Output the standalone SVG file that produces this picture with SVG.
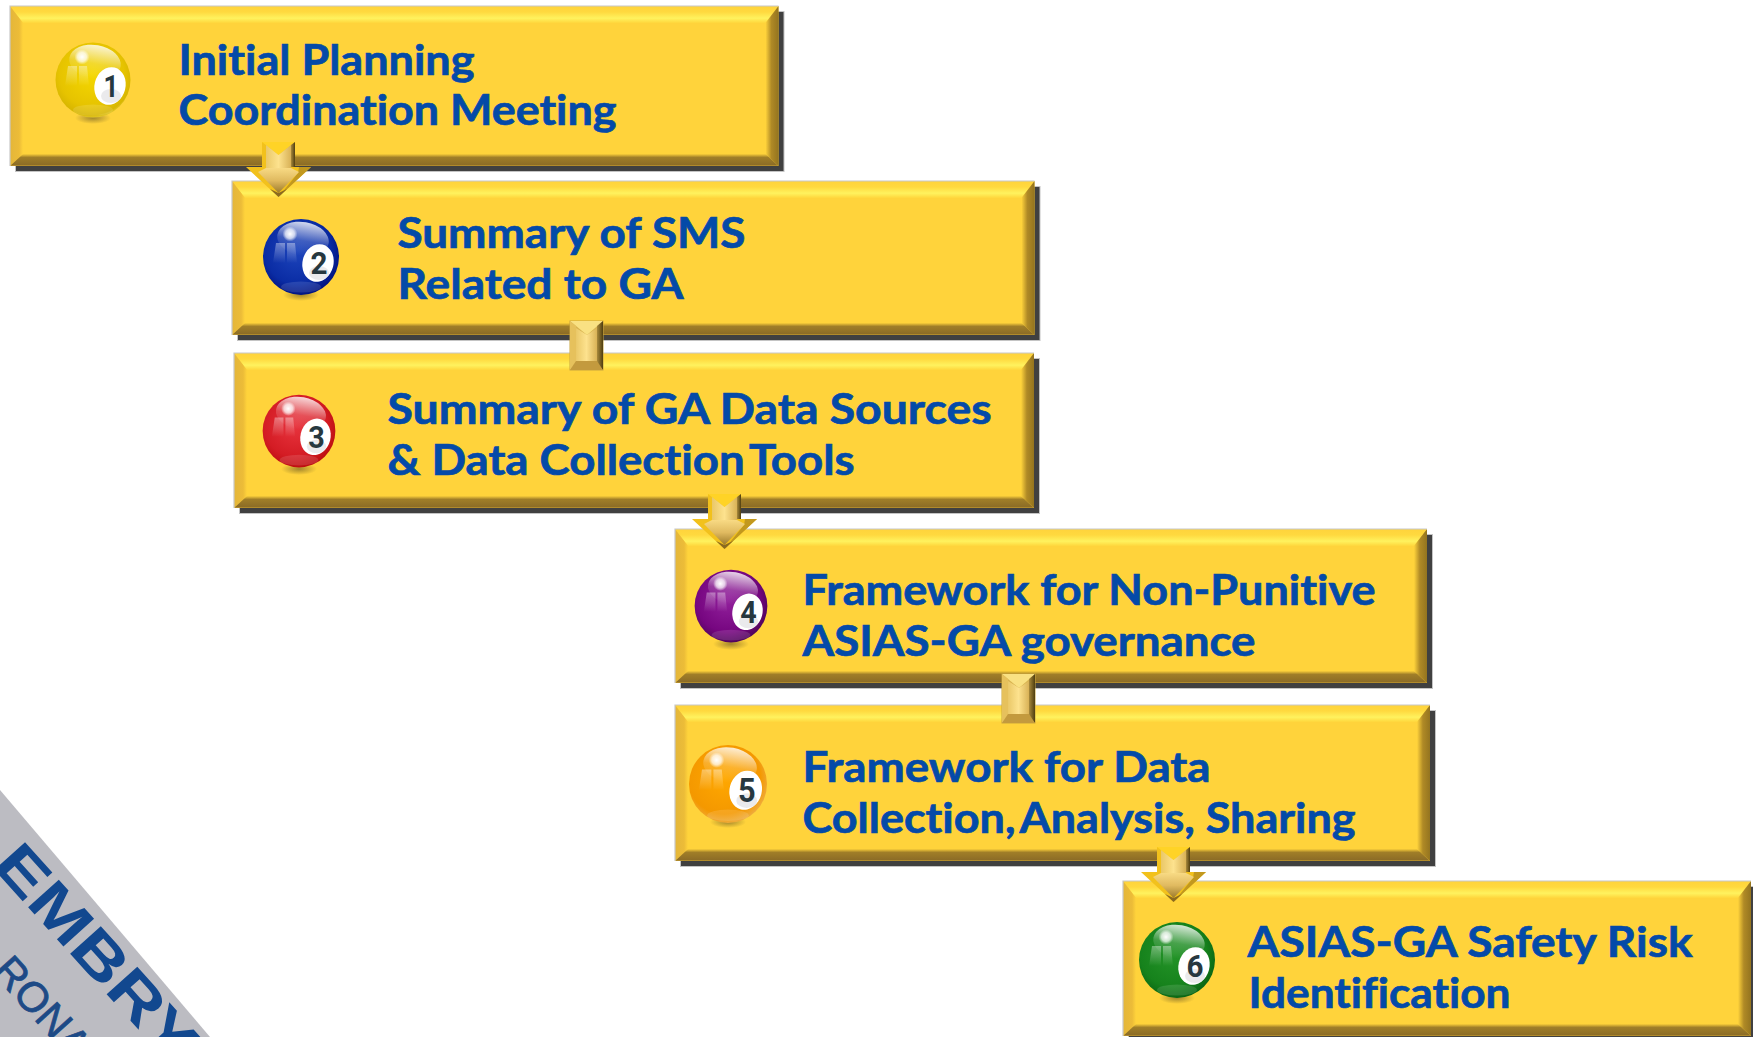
<svg xmlns="http://www.w3.org/2000/svg" width="1753" height="1037" viewBox="0 0 1753 1037">
<style>
.shadow{fill:#404040;stroke:#c4c4c4;stroke-width:1}
.face{fill:#ffd33b}
.top{fill:url(#gTop)}
.left{fill:url(#gLeft)}
.right{fill:url(#gRight)}
.bottom{fill:url(#gBottom)}
.edge{fill:none;stroke:#c8c8c8;stroke-width:1.2}
.label{font-family:"Lato","Open Sans","Liberation Sans",sans-serif;font-weight:700;font-size:42px;fill:#044aa8;stroke:#044aa8;stroke-width:.7;font-variant-ligatures:none}
.num{font-family:"Roboto","Liberation Sans",sans-serif;font-weight:700;font-size:32px;fill:#27383f;text-anchor:middle}
.logo1{font-family:"Liberation Sans",Arial,sans-serif;font-weight:700;font-size:60px;fill:#12488f}
.logo2{font-family:"Liberation Sans",Arial,sans-serif;font-size:42px;fill:#1d4a86;stroke:#1d4a86;stroke-width:.8}
</style>
<defs>
<linearGradient id="gTop" x1="0" y1="0" x2="0" y2="1"><stop offset="0" stop-color="#ffd33b"/><stop offset=".35" stop-color="#ffd93f"/><stop offset=".72" stop-color="#fff25e"/><stop offset="1" stop-color="#ffd63c"/></linearGradient>
<linearGradient id="gLeft" x1="0" y1="0" x2="1" y2="0"><stop offset="0" stop-color="#e4b63a"/><stop offset=".7" stop-color="#ecbc38"/><stop offset="1" stop-color="#ffd33b"/></linearGradient>
<linearGradient id="gRight" x1="0" y1="0" x2="1" y2="0"><stop offset="0" stop-color="#ffd33b"/><stop offset=".45" stop-color="#b08a26"/><stop offset="1" stop-color="#94741f"/></linearGradient>
<linearGradient id="gBottom" x1="0" y1="0" x2="0" y2="1"><stop offset="0" stop-color="#fbcf3a"/><stop offset=".28" stop-color="#a07e28"/><stop offset=".92" stop-color="#8c6c26"/><stop offset="1" stop-color="#d8ab30"/></linearGradient>
<linearGradient id="aFace" x1="0" y1="0" x2="1" y2="0"><stop offset="0" stop-color="#eac868"/><stop offset=".5" stop-color="#fde28e"/><stop offset="1" stop-color="#d9b257"/></linearGradient>
<linearGradient id="aTip" x1="0" y1="0" x2="0" y2="1"><stop offset="0" stop-color="#f8da84"/><stop offset=".5" stop-color="#e0ba60"/><stop offset="1" stop-color="#9c7a2a"/></linearGradient>
<linearGradient id="aRight" x1="0" y1="0" x2="1" y2="0"><stop offset="0" stop-color="#a98a3c"/><stop offset="1" stop-color="#4f3e10"/></linearGradient>
<radialGradient id="bY" cx=".48" cy=".42" r=".62"><stop offset="0" stop-color="#f5d800"/><stop offset=".7" stop-color="#e6c300"/><stop offset=".88" stop-color="#d8b600"/><stop offset="1" stop-color="#ecd85a"/></radialGradient>
<radialGradient id="bB" cx=".45" cy=".42" r=".62"><stop offset="0" stop-color="#1d45bc"/><stop offset=".7" stop-color="#0a2ca4"/><stop offset="1" stop-color="#000e78"/></radialGradient>
<radialGradient id="bR" cx=".45" cy=".42" r=".62"><stop offset="0" stop-color="#e8343e"/><stop offset=".7" stop-color="#d41c24"/><stop offset="1" stop-color="#b80c0c"/></radialGradient>
<radialGradient id="bP" cx=".45" cy=".42" r=".62"><stop offset="0" stop-color="#92209c"/><stop offset=".7" stop-color="#760680"/><stop offset="1" stop-color="#480454"/></radialGradient>
<radialGradient id="bO" cx=".45" cy=".42" r=".62"><stop offset="0" stop-color="#ffa800"/><stop offset=".75" stop-color="#f49800"/><stop offset="1" stop-color="#eeb04a"/></radialGradient>
<radialGradient id="bG" cx=".45" cy=".42" r=".62"><stop offset="0" stop-color="#249428"/><stop offset=".7" stop-color="#16821c"/><stop offset="1" stop-color="#086012"/></radialGradient>
<linearGradient id="gloss" x1="0" y1="0" x2="0" y2="1"><stop offset="0" stop-color="#fff" stop-opacity=".82"/><stop offset=".55" stop-color="#fff" stop-opacity=".18"/><stop offset="1" stop-color="#fff" stop-opacity="0"/></linearGradient>
<radialGradient id="spot"><stop offset="0" stop-color="#fff" stop-opacity="1"/><stop offset=".6" stop-color="#fff" stop-opacity=".7"/><stop offset="1" stop-color="#fff" stop-opacity="0"/></radialGradient>
<radialGradient id="shade"><stop offset="0" stop-color="#5a4a20" stop-opacity=".55"/><stop offset="1" stop-color="#5a4a20" stop-opacity="0"/></radialGradient>
<linearGradient id="win" x1="0" y1="0" x2="0" y2="1"><stop offset="0" stop-color="#fff" stop-opacity=".38"/><stop offset="1" stop-color="#fff" stop-opacity="0"/></linearGradient>
<g id="gl">
<ellipse cx="2" cy="-18" rx="26" ry="17" fill="url(#gloss)" transform="rotate(10 2 -18)"/>
<circle cx="-11" cy="-23" r="7.5" fill="url(#spot)"/>
<path d="M-25-14h9v20h-12zM-14-14h8l2 20h-10z" fill="url(#win)"/>
<ellipse cx="0" cy="30" rx="20" ry="5.5" fill="#fff" opacity=".12"/>
<ellipse cx="17" cy="6" rx="15.5" ry="19" fill="#fff" transform="rotate(14 17 6)"/>
<ellipse cx="18" cy="16" rx="10" ry="7" fill="#dcdce0" opacity=".6"/>
</g>
<ellipse id="sh" cx="0" cy="38" rx="18" ry="6" fill="url(#shade)"/>
<g id="arrow">
<polygon points="16,0 49,0 49,25 65,25 32.5,55 0,25 16,25" fill="#f2c11c"/>
<polygon points="16,0 49,0 32.5,13" fill="#ffd326"/>
<polygon points="49,0 45,3 45,25 49,25" fill="url(#aRight)"/>
<polygon points="20,3 32.5,13 45,3 45,27 20,27" fill="url(#aFace)"/>
<polygon points="32.5,55 65,25 53,25 52,31" fill="#c2981e"/>
<polygon points="20,26 45,26 53,30 32.5,51 12,30" fill="url(#aTip)"/>
<polygon points="32.5,55 24,47 32.5,51 41,47" fill="#8a6a20"/>
</g>
<g id="block">
<rect x="0" y="0" width="33" height="49" fill="#d9b451" stroke="#c9a63f" stroke-width="1"/>
<polygon points="0,0 33,0 17,14" fill="#f9e183"/>
<polygon points="0,0 6,5 6,43 0,49" fill="#e6c15c"/>
<polygon points="33,0 27,5 27,43 33,49" fill="url(#aRight)"/>
<polygon points="6,7 17,14 27,7 27,42 6,42" fill="url(#aFace)"/>
<polygon points="0,49 33,49 27,40 6,40" fill="#c39a3e"/>
</g>
</defs>
<rect width="1753" height="1037" fill="#fff"/>
<g id="logo">
<polygon points="0,790 210,1037 0,1037" fill="#bcbcc2"/>
<text class="logo1" x="-9" y="866" textLength="345" lengthAdjust="spacingAndGlyphs" transform="rotate(48 -9 866)">EMBRY-R</text>
<text class="logo2" x="-9" y="972" transform="rotate(48 -9 972)">RONAU</text>
</g>
<g id="node1">
<rect class="shadow" x="15.5" y="11.5" width="768.5" height="160"/>
<rect class="face" x="10" y="6" width="768.5" height="160"/>
<polygon class="top" points="10,6 778.5,6 765.5,23 23,23"/>
<polygon class="left" points="10,6 23,23 23,154 10,166"/>
<polygon class="right" points="778.5,6 765.5,23 765.5,154 778.5,166"/>
<polygon class="bottom" points="10,166 23,154 765.5,154 778.5,166"/>
<path class="edge" d="M10,166V6H778.5"/>
<use href="#sh" x="93" y="80"/>
<g transform="translate(93 80)"><circle r="37.5" fill="url(#bY)"/><use href="#gl"/><text class="num" x="18" y="17" textLength="15" lengthAdjust="spacingAndGlyphs">1</text></g>
<text class="label" x="178.500" y="74.500" textLength="296" lengthAdjust="spacingAndGlyphs">Initial Planning</text>
<text class="label" x="178.500" y="124.500" textLength="438" lengthAdjust="spacingAndGlyphs">Coordination Meeting</text>
</g>
<g id="node2">
<rect class="shadow" x="237.5" y="186.5" width="802.5" height="154"/>
<rect class="face" x="232" y="181" width="802.5" height="154"/>
<polygon class="top" points="232,181 1034.5,181 1021.5,198 245,198"/>
<polygon class="left" points="232,181 245,198 245,323 232,335"/>
<polygon class="right" points="1034.5,181 1021.5,198 1021.5,323 1034.5,335"/>
<polygon class="bottom" points="232,335 245,323 1021.5,323 1034.5,335"/>
<path class="edge" d="M232,335V181H1034.5"/>
<use href="#sh" x="301" y="257"/>
<g transform="translate(301 257)"><circle r="38" fill="url(#bB)"/><use href="#gl"/><text class="num" x="18" y="17" textLength="17" lengthAdjust="spacingAndGlyphs">2</text></g>
<text class="label" x="397.500" y="247.500" textLength="348" lengthAdjust="spacingAndGlyphs">Summary of SMS</text>
<text class="label" x="397.500" y="298.500" textLength="286" lengthAdjust="spacingAndGlyphs">Related to GA</text>
</g>
<g id="node3">
<rect class="shadow" x="239.5" y="358.5" width="800" height="155"/>
<rect class="face" x="234" y="353" width="800" height="155"/>
<polygon class="top" points="234,353 1034,353 1021,370 247,370"/>
<polygon class="left" points="234,353 247,370 247,496 234,508"/>
<polygon class="right" points="1034,353 1021,370 1021,496 1034,508"/>
<polygon class="bottom" points="234,508 247,496 1021,496 1034,508"/>
<path class="edge" d="M234,508V353H1034"/>
<use href="#sh" x="299" y="431"/>
<g transform="translate(299 431) scale(.97)"><circle r="37.5" fill="url(#bR)"/><use href="#gl"/><text class="num" x="18" y="17" textLength="17" lengthAdjust="spacingAndGlyphs">3</text></g>
<text class="label" x="387.500" y="423.500" textLength="604" lengthAdjust="spacingAndGlyphs">Summary of GA Data Sources</text>
<text class="label" x="387.500" y="474.500" textLength="467" lengthAdjust="spacingAndGlyphs">&amp; Data Collection <tspan dx="-5">Tools</tspan></text>
</g>
<g id="node4">
<rect class="shadow" x="680.5" y="534.5" width="752" height="154"/>
<rect class="face" x="675" y="529" width="752" height="154"/>
<polygon class="top" points="675,529 1427,529 1414,546 688,546"/>
<polygon class="left" points="675,529 688,546 688,671 675,683"/>
<polygon class="right" points="1427,529 1414,546 1414,671 1427,683"/>
<polygon class="bottom" points="675,683 688,671 1414,671 1427,683"/>
<path class="edge" d="M675,683V529H1427"/>
<use href="#sh" x="731" y="606"/>
<g transform="translate(731 606) scale(.97)"><circle r="37.5" fill="url(#bP)"/><use href="#gl"/><text class="num" x="18" y="17" textLength="17" lengthAdjust="spacingAndGlyphs">4</text></g>
<text class="label" x="802.500" y="604.500" textLength="573" lengthAdjust="spacingAndGlyphs">Framework for Non-Punitive</text>
<text class="label" x="802.500" y="655.500" textLength="453" lengthAdjust="spacingAndGlyphs">ASIAS-GA governance</text>
</g>
<g id="node5">
<rect class="shadow" x="680.5" y="710.5" width="755" height="156"/>
<rect class="face" x="675" y="705" width="755" height="156"/>
<polygon class="top" points="675,705 1430,705 1417,722 688,722"/>
<polygon class="left" points="675,705 688,722 688,849 675,861"/>
<polygon class="right" points="1430,705 1417,722 1417,849 1430,861"/>
<polygon class="bottom" points="675,861 688,849 1417,849 1430,861"/>
<path class="edge" d="M675,861V705H1430"/>
<use href="#sh" x="728" y="784"/>
<g transform="translate(728 784) scale(1.04)"><circle r="37.5" fill="url(#bO)"/><use href="#gl"/><text class="num" x="18" y="17" textLength="17" lengthAdjust="spacingAndGlyphs">5</text></g>
<text class="label" x="802.500" y="781.500" textLength="408" lengthAdjust="spacingAndGlyphs">Framework for Data</text>
<text class="label" x="802.500" y="832.500" textLength="553" lengthAdjust="spacingAndGlyphs">Collection, <tspan dx="-5">Analysis,</tspan> Sharing</text>
</g>
<g id="node6">
<rect class="shadow" x="1128.5" y="886.5" width="630" height="155"/>
<rect class="face" x="1123" y="881" width="628" height="155"/>
<polygon class="top" points="1123,881 1751,881 1738,898 1136,898"/>
<polygon class="left" points="1123,881 1136,898 1136,1024 1123,1036"/>
<polygon class="right" points="1751,881 1738,898 1738,1024 1751,1036"/>
<polygon class="bottom" points="1123,1036 1136,1024 1738,1024 1751,1036"/>
<path class="edge" d="M1123,1036V881H1751"/>
<use href="#sh" x="1177" y="960"/>
<g transform="translate(1177 960)"><circle r="38" fill="url(#bG)"/><use href="#gl"/><text class="num" x="18" y="17" textLength="17" lengthAdjust="spacingAndGlyphs">6</text></g>
<text class="label" x="1247.500" y="956.500" textLength="445" lengthAdjust="spacingAndGlyphs">ASIAS-GA Safety Risk</text>
<text class="label" x="1248.500" y="1007.500" textLength="262" lengthAdjust="spacingAndGlyphs">Identification</text>
</g>
<g id="connectors">
<use href="#arrow" x="246" y="142"/>
<use href="#block" x="570" y="321"/>
<use href="#arrow" x="692" y="494"/>
<use href="#block" x="1002" y="674"/>
<use href="#arrow" x="1141" y="847"/>
</g>
</svg>
